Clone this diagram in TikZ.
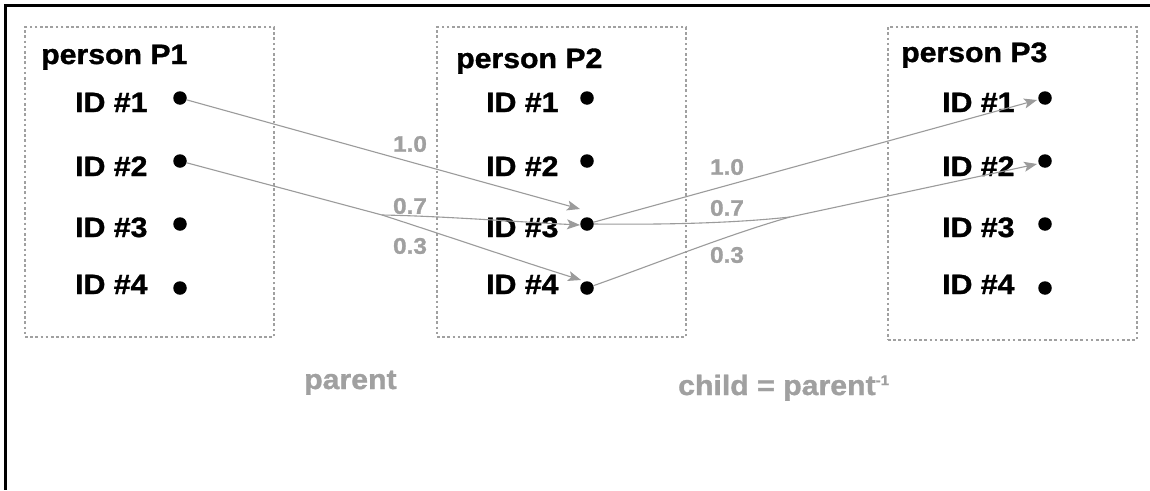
\documentclass[tikz,border=0pt]{standalone}
\usepackage{fontspec}
\setmainfont[FakeStretch=1.08, BoldFeatures={FakeBold=1.2}]{Liberation Sans}
\usetikzlibrary{arrows.meta}
\definecolor{lg}{RGB}{160,160,160}
\definecolor{lc}{RGB}{155,155,155}
\tikzset{
  frameline/.style={line width=3.3pt, black},
  box/.style={draw=lg, line width=2.2pt, dash pattern=on 2.6pt off 2.6pt, rectangle, inner sep=0pt},
  title/.style={anchor=base west, inner sep=0pt, font=\fontsize{28}{30}\selectfont\bfseries},
  idlab/.style={anchor=base west, inner sep=0pt, font=\fontsize{28}{30}\selectfont\bfseries},
  dot/.style={circle, fill=black, inner sep=0pt, minimum size=13.5pt},
  wlab/.style={inner sep=0pt, text=lg, font=\fontsize{22.5}{24}\selectfont\bfseries},
  rel/.style={anchor=base west, inner sep=0pt, text=lg, font=\fontsize{28}{30}\selectfont\bfseries},
  conn/.style={draw=lc, line width=1.1pt},
  arr/.style={conn, -{Stealth[length=13pt, width=10pt, inset=3pt, fill=lc]}}
}
\begin{document}
\begin{tikzpicture}[x=1pt, y=-1pt]
\useasboundingbox (0,0) rectangle (1150,490);
\fill[white] (0,0) rectangle (1150,490);
% frame
\coordinate (fTL) at (5.6,5.6);
\coordinate (fTR) at (1150,5.6);
\coordinate (fBL) at (5.6,490);
\draw[frameline] (fTR) -- (fTL) -- (fBL);
% boxes
\node[box, minimum width=249pt, minimum height=310pt] (P1) at (149.5,182) {};
\node[box, minimum width=249pt, minimum height=310pt] (P2) at (561.5,182) {};
\node[box, minimum width=249pt, minimum height=313pt] (P3) at (1012.5,183.5) {};
% titles
\node[title] (t1) at (41,64) {person P1};
\node[title] (t2) at (456,68) {person P2};
\node[title] (t3) at (901,62) {person P3};
% ID labels
\foreach \c/\x in {a/75, b/486, c/942}{
  \node[idlab] (\c l1) at (\x,112) {ID \#1};
  \node[idlab] (\c l2) at (\x,176) {ID \#2};
  \node[idlab] (\c l3) at (\x,237) {ID \#3};
  \node[idlab] (\c l4) at (\x,294) {ID \#4};
}
% dots
\foreach \c/\x in {a/180, b/587, c/1045}{
  \node[dot] (\c1) at (\x,98) {};
  \node[dot] (\c2) at (\x,161) {};
  \node[dot] (\c3) at (\x,224) {};
  \node[dot] (\c4) at (\x,288) {};
}
% arrow tips and junctions
\coordinate (tb3a) at (580,209);
\coordinate (tb3b) at (580,225);
\coordinate (tb4) at (581,280);
\coordinate (jL) at (382,215);
\coordinate (tc1) at (1037,100);
\coordinate (tc2) at (1037,164);
\coordinate (jR) at (790,217);
% left connectors (parent)
\draw[arr] (a1) -- (tb3a);
\draw[arr] (a2) -- (jL) .. controls (450,237) and (520,261) .. (tb4);
\draw[arr] (jL) .. controls (440,216) and (520,222) .. (tb3b);
% right connectors (child)
\draw[arr] (b3) -- (tc1);
\draw[arr] (b4) .. controls (660,262) and (730,234) .. (jR) -- (tc2);
\draw[conn] (b3.east) .. controls (680,225) and (745,222) .. (jR);
% weights
\node[wlab] (w1) at (410,144) {1.0};
\node[wlab] (w2) at (410,206) {0.7};
\node[wlab] (w3) at (410,246) {0.3};
\node[wlab] (w4) at (727,167) {1.0};
\node[wlab] (w5) at (727,208) {0.7};
\node[wlab] (w6) at (727,255) {0.3};
% relation labels
\node[rel] (rp) at (304,389) {parent};
\node[rel] (rc) at (678,395) {child = parent\raisebox{10pt}{\fontsize{14}{14}\selectfont -1}};
\end{tikzpicture}
\end{document}
